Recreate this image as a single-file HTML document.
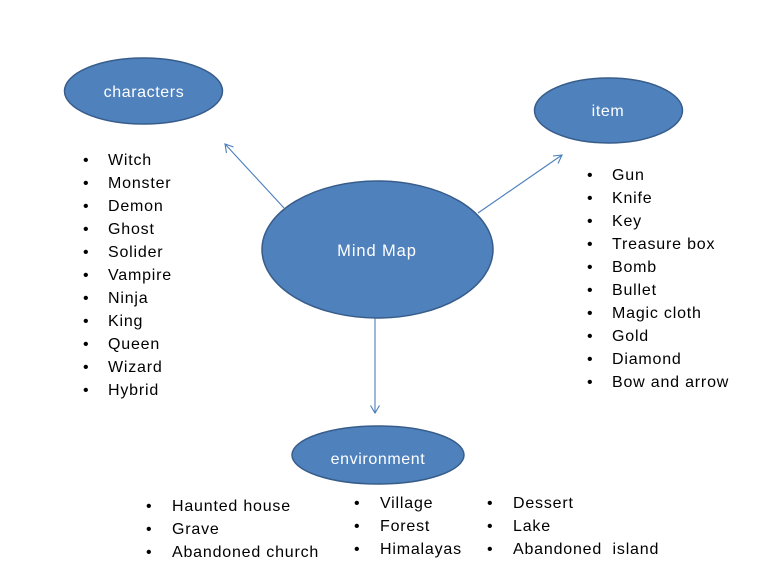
<!DOCTYPE html>
<html>
<head>
<meta charset="utf-8">
<style>
  html, body { margin:0; padding:0; background:#fff; }
  svg { display:block; }
  .lbl { font-family:"Liberation Sans", sans-serif; font-size:16px; fill:#fff; letter-spacing:0.6px; }
  .t { font-family:"Liberation Sans", sans-serif; font-size:16px; fill:#000; letter-spacing:0.8px; }
  .b { font-family:"Liberation Sans", sans-serif; font-size:16px; fill:#000; }
</style>
</head>
<body>
<svg width="768" height="576" viewBox="0 0 768 576" xmlns="http://www.w3.org/2000/svg">
  <!-- connectors -->
  <g stroke="#4a7ebb" stroke-width="1.1" fill="none">
    <line x1="284" y1="208" x2="225" y2="144"/>
    <polyline points="226.5,153 225,144 233.5,147"/>
    <line x1="478" y1="213" x2="562" y2="155"/>
    <polyline points="553,156 562,155 558,163.5"/>
    <line x1="375" y1="318" x2="375" y2="413"/>
    <polyline points="370.5,405.5 375,413 379.5,405.5"/>
  </g>

  <!-- ellipses -->
  <g fill="#4f81bd" stroke="#385d8a" stroke-width="1.5">
    <ellipse cx="143.5" cy="91" rx="79" ry="33"/>
    <ellipse cx="608.5" cy="110.5" rx="74" ry="32.5"/>
    <ellipse cx="377.5" cy="249.5" rx="115.5" ry="68.5"/>
    <ellipse cx="378" cy="455" rx="86" ry="29"/>
  </g>

  <!-- labels -->
  <text class="lbl" x="144" y="97" text-anchor="middle">characters</text>
  <text class="lbl" x="608" y="116" text-anchor="middle">item</text>
  <text class="lbl" x="377" y="256" text-anchor="middle" style="font-size:16.5px;letter-spacing:0.9px">Mind Map</text>
  <text class="lbl" x="378" y="464" text-anchor="middle">environment</text>

  <!-- characters list -->
  <g>
    <text class="b" x="83" y="165">•</text><text class="t" x="108" y="165">Witch</text>
    <text class="b" x="83" y="188">•</text><text class="t" x="108" y="188">Monster</text>
    <text class="b" x="83" y="211">•</text><text class="t" x="108" y="211">Demon</text>
    <text class="b" x="83" y="234">•</text><text class="t" x="108" y="234">Ghost</text>
    <text class="b" x="83" y="257">•</text><text class="t" x="108" y="257">Solider</text>
    <text class="b" x="83" y="280">•</text><text class="t" x="108" y="280">Vampire</text>
    <text class="b" x="83" y="303">•</text><text class="t" x="108" y="303">Ninja</text>
    <text class="b" x="83" y="326">•</text><text class="t" x="108" y="326">King</text>
    <text class="b" x="83" y="349">•</text><text class="t" x="108" y="349">Queen</text>
    <text class="b" x="83" y="372">•</text><text class="t" x="108" y="372">Wizard</text>
    <text class="b" x="83" y="395">•</text><text class="t" x="108" y="395">Hybrid</text>
  </g>

  <!-- item list -->
  <g>
    <text class="b" x="587" y="180">•</text><text class="t" x="612" y="180">Gun</text>
    <text class="b" x="587" y="203">•</text><text class="t" x="612" y="203">Knife</text>
    <text class="b" x="587" y="226">•</text><text class="t" x="612" y="226">Key</text>
    <text class="b" x="587" y="249">•</text><text class="t" x="612" y="249">Treasure box</text>
    <text class="b" x="587" y="272">•</text><text class="t" x="612" y="272">Bomb</text>
    <text class="b" x="587" y="295">•</text><text class="t" x="612" y="295">Bullet</text>
    <text class="b" x="587" y="318">•</text><text class="t" x="612" y="318">Magic cloth</text>
    <text class="b" x="587" y="341">•</text><text class="t" x="612" y="341">Gold</text>
    <text class="b" x="587" y="364">•</text><text class="t" x="612" y="364">Diamond</text>
    <text class="b" x="587" y="387">•</text><text class="t" x="612" y="387">Bow and arrow</text>
  </g>

  <!-- environment lists -->
  <g>
    <text class="b" x="146" y="511">•</text><text class="t" x="172" y="511">Haunted house</text>
    <text class="b" x="146" y="534">•</text><text class="t" x="172" y="534">Grave</text>
    <text class="b" x="146" y="557">•</text><text class="t" x="172" y="557">Abandoned church</text>

    <text class="b" x="354" y="508">•</text><text class="t" x="380" y="508">Village</text>
    <text class="b" x="354" y="531">•</text><text class="t" x="380" y="531">Forest</text>
    <text class="b" x="354" y="554">•</text><text class="t" x="380" y="554">Himalayas</text>

    <text class="b" x="487" y="508">•</text><text class="t" x="513" y="508">Dessert</text>
    <text class="b" x="487" y="531">•</text><text class="t" x="513" y="531">Lake</text>
    <text class="b" x="487" y="554">•</text><text class="t" x="513" y="554">Abandoned&#160; island</text>
  </g>
</svg>
</body>
</html>
